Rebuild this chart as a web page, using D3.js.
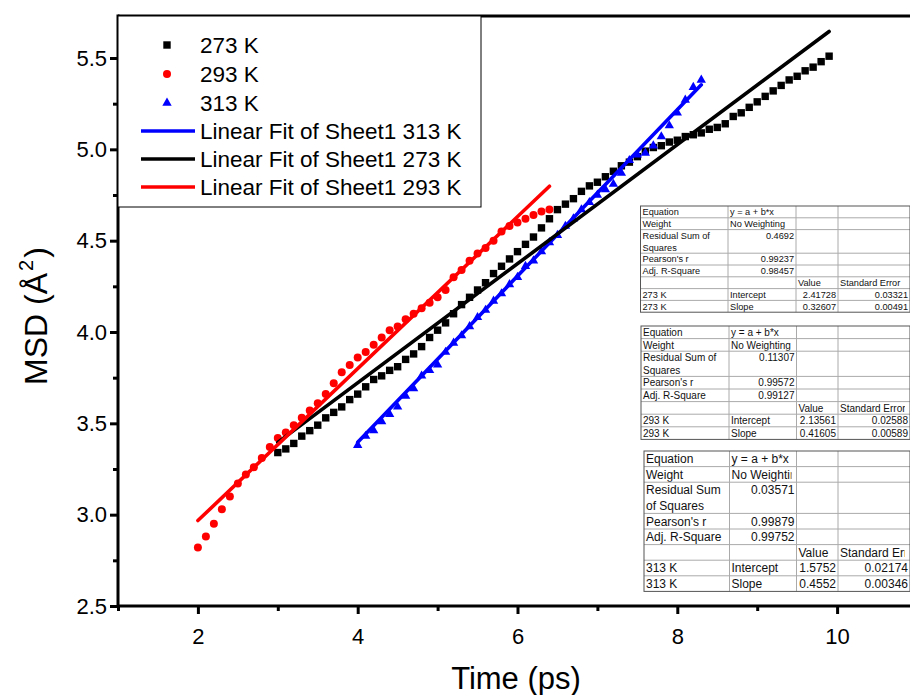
<!DOCTYPE html>
<html>
<head>
<meta charset="utf-8">
<script src="https://cdn.jsdelivr.net/npm/d3@7"></script>
<style>
  body { margin: 0; background: #fff; }
  svg { display: block; font-family: "Liberation Sans", Arial, sans-serif; }
</style>
</head>
<body>
<div id="chart"></div>
<script>
// MSD data, sampled every 0.1 ps
const dt = 0.1;
const start273 = 3.0;
const msd273 = [3.34, 3.36, 3.39, 3.43, 3.46, 3.49, 3.53, 3.56, 3.59, 3.63,
  3.66, 3.70, 3.74, 3.76, 3.79, 3.81, 3.85, 3.88, 3.92, 3.97,
  4.01, 4.05, 4.10, 4.15, 4.19, 4.23, 4.27, 4.32, 4.36, 4.40,
  4.44, 4.48, 4.52, 4.57, 4.62, 4.67, 4.70, 4.73, 4.77, 4.80,
  4.82, 4.85, 4.88, 4.91, 4.93, 4.96, 4.99, 5.01, 5.02, 5.04,
  5.05, 5.07, 5.08, 5.09, 5.11, 5.12, 5.14, 5.18, 5.20, 5.23,
  5.26, 5.29, 5.32, 5.35, 5.38, 5.40, 5.43, 5.45, 5.48, 5.51];
const start293 = 2.0;
const msd293 = [2.82, 2.88, 2.95, 3.03, 3.10, 3.17, 3.22, 3.26, 3.31, 3.37,
  3.42, 3.45, 3.49, 3.53, 3.57, 3.61, 3.66, 3.72, 3.78, 3.82,
  3.86, 3.89, 3.93, 3.97, 4.01, 4.03, 4.07, 4.10, 4.13, 4.16,
  4.19, 4.23, 4.30, 4.34, 4.39, 4.43, 4.46, 4.50, 4.55, 4.58,
  4.60, 4.62, 4.64, 4.66, 4.67];
const start313 = 4.0;
const msd313 = [3.38, 3.43, 3.46, 3.51, 3.55, 3.59, 3.65, 3.69, 3.76, 3.79,
  3.82, 3.89, 3.94, 3.98, 4.03, 4.08, 4.12, 4.17, 4.21, 4.26,
  4.30, 4.36, 4.39, 4.44, 4.49, 4.53, 4.58, 4.62, 4.67, 4.71,
  4.75, 4.78, 4.81, 4.87, 4.94, 4.97, 4.98, 5.02, 5.07, 5.13,
  5.20, 5.27, 5.34, 5.38];

// linear fit results (Origin tables)
const fitNames = ["273 K", "293 K", "313 K"];
const fitIntercept = ["2.41728", "2.13561", "1.5752"];
const fitInterceptErr = ["0.03321", "0.02588", "0.02174"];
const fitSlope = ["0.32607", "0.41605", "0.4552"];
const fitSlopeErr = ["0.00491", "0.00589", "0.00346"];
const fitRSS = ["0.4692", "0.11307", "0.03571"];
const fitPearson = ["0.99237", "0.99572", "0.99879"];
const fitAdjR2 = ["0.98457", "0.99127", "0.99752"];

const xMajor = [2, 4, 6, 8, 10];
const xMinor = [1, 3, 5, 7, 9];
const yMajor = [2.5, 3.0, 3.5, 4.0, 4.5, 5.0, 5.5];
const yMinor = [2.75, 3.25, 3.75, 4.25, 4.75, 5.25];

const legendLabels = ["273 K", "293 K", "313 K",
  "Linear Fit of Sheet1 313 K", "Linear Fit of Sheet1 273 K", "Linear Fit of Sheet1 293 K"];

const W = 910, H = 695;
const svg = d3.select("#chart").append("svg")
  .attr("width", W)
  .attr("height", H);

const x = d3.scaleLinear().domain([1, 11]).range([118, 917]);
const y = d3.scaleLinear().domain([2.5, 5.73]).range([606, 16]);

function toPoints(start, vals) {
  return vals.map((v, i) => ({ t: start + i * dt, v: v }));
}
const pts273 = toPoints(start273, msd273);
const pts293 = toPoints(start293, msd293);
const pts313 = toPoints(start313, msd313);

// data markers
svg.append("g").selectAll("rect")
  .data(pts273)
  .enter().append("rect")
  .attr("x", d => x(d.t) - 3.7)
  .attr("y", d => y(d.v) - 3.7)
  .attr("width", 7.4)
  .attr("height", 7.4)
  .attr("fill", "#000");

svg.append("g").selectAll("circle")
  .data(pts293)
  .enter().append("circle")
  .attr("cx", d => x(d.t))
  .attr("cy", d => y(d.v))
  .attr("r", 4)
  .attr("fill", "#ff0000");

const tri = d3.symbol().type(d3.symbolTriangle).size(38);
svg.append("g").selectAll("path")
  .data(pts313)
  .enter().append("path")
  .attr("d", tri)
  .attr("transform", d => `translate(${x(d.t)},${y(d.v)})`)
  .attr("fill", "#0000ff");

// fit lines, drawn in legend order
const fits = [
  { pts: pts313, k: 2, color: "#0000ff" },
  { pts: pts273, k: 0, color: "#000000" },
  { pts: pts293, k: 1, color: "#ff0000" }
];
fits.forEach(f => {
  const a = +fitIntercept[f.k], b = +fitSlope[f.k];
  const t0 = f.pts[0].t, t1 = f.pts[f.pts.length - 1].t;
  svg.append("line")
    .attr("x1", x(t0)).attr("y1", y(a + b * t0))
    .attr("x2", x(t1)).attr("y2", y(a + b * t1))
    .attr("stroke", f.color)
    .attr("stroke-width", 3.6)
    .attr("stroke-linecap", "round");
});

// axes
const axisG = svg.append("g");
function styleAxis(g, fontSize) {
  g.select(".domain").remove();
  g.selectAll("line").attr("stroke", "#000").attr("stroke-width", 3);
  g.selectAll("text").attr("font-size", fontSize).attr("fill", "#000")
    .attr("font-family", "'Liberation Sans', Arial, sans-serif");
}

axisG.append("g")
  .attr("transform", `translate(0,${y(2.5)})`)
  .call(d3.axisBottom(x).tickValues(xMajor).tickSize(8).tickPadding(14).tickFormat(d3.format("d")))
  .call(g => styleAxis(g, 22));
axisG.append("g")
  .attr("transform", `translate(0,${y(2.5)})`)
  .call(d3.axisBottom(x).tickValues(xMinor).tickSize(5).tickFormat(""))
  .call(g => styleAxis(g, 22));

axisG.append("g")
  .attr("transform", `translate(${x(1)},0)`)
  .call(d3.axisLeft(y).tickValues(yMajor).tickSize(8).tickPadding(3).tickFormat(d3.format(".1f")))
  .call(g => styleAxis(g, 22));
axisG.append("g")
  .attr("transform", `translate(${x(1)},0)`)
  .call(d3.axisLeft(y).tickValues(yMinor).tickSize(5).tickFormat(""))
  .call(g => styleAxis(g, 22));

// frame lines
axisG.append("line")
  .attr("x1", x(1)).attr("x2", W + 10)
  .attr("y1", y(2.5)).attr("y2", y(2.5))
  .attr("stroke", "#000").attr("stroke-width", 3);
axisG.append("line")
  .attr("x1", x(1)).attr("x2", W + 10)
  .attr("y1", y(5.73)).attr("y2", y(5.73))
  .attr("stroke", "#000").attr("stroke-width", 3);
axisG.append("line")
  .attr("x1", x(1)).attr("x2", x(1))
  .attr("y1", y(5.73) - 1.5).attr("y2", y(2.5) + 1.5)
  .attr("stroke", "#000").attr("stroke-width", 3);

// axis titles
svg.append("text")
  .attr("x", 516)
  .attr("y", 689)
  .attr("text-anchor", "middle")
  .attr("font-size", 31)
  .text("Time (ps)");

const yt = svg.append("text")
  .attr("transform", "translate(47,316) rotate(-90)")
  .attr("text-anchor", "middle")
  .attr("font-size", 32);
yt.append("tspan").text("MSD (Å");
yt.append("tspan").attr("font-size", 20).attr("dy", -14).attr("dx", 2).text("2");
yt.append("tspan").attr("dy", 14).attr("dx", 2).text(")");

// legend
const lg = svg.append("g");
lg.append("rect")
  .attr("x", x(1)).attr("y", y(5.73))
  .attr("width", 481 - x(1)).attr("height", 207 - y(5.73))
  .attr("fill", "#fff")
  .attr("stroke", "#000").attr("stroke-width", 1);
const rowY = [45, 74, 103, 131, 159, 187];
const legendColors = ["#000000", "#ff0000", "#0000ff", "#0000ff", "#000000", "#ff0000"];
legendLabels.forEach((lab, i) => {
  const cy = rowY[i];
  if (i === 0) {
    lg.append("rect").attr("x", 167 - 3.7).attr("y", cy - 3.7).attr("width", 7.4).attr("height", 7.4).attr("fill", legendColors[i]);
  } else if (i === 1) {
    lg.append("circle").attr("cx", 167).attr("cy", cy).attr("r", 4).attr("fill", legendColors[i]);
  } else if (i === 2) {
    lg.append("path").attr("d", tri).attr("transform", `translate(167,${cy})`).attr("fill", legendColors[i]);
  } else {
    lg.append("line").attr("x1", 141).attr("x2", 195).attr("y1", cy).attr("y2", cy)
      .attr("stroke", legendColors[i]).attr("stroke-width", 3.6);
  }
  lg.append("text")
    .attr("x", 200).attr("y", cy)
    .attr("dy", "0.36em")
    .attr("font-size", 22.5)
    .text(lab);
});

// fit result tables
const tableSpecs = [
  { k: 0, left: 640.5, top: 206, rowH: 11.8, font: 9.2, cols: [640.5, 728, 796, 838, 910] },
  { k: 1, left: 641, top: 326, rowH: 12.6, font: 10, cols: [641, 729, 796.5, 838, 910] },
  { k: 2, left: 644, top: 451, rowH: 15.6, font: 12, cols: [644, 729.5, 796.5, 838, 910] }
];
const defs = svg.append("defs");
tableSpecs.forEach((s, ti) => {
  const k = s.k;
  const resLabel = ti === 2 ? ["Residual Sum", "of Squares"] : ["Residual Sum of", "Squares"];
  const rows = [
    { h: 1, cells: [["Equation"], ["y = a + b*x"], [""], [""]] },
    { h: 1, cells: [["Weight"], ["No Weighting"], [""], [""]] },
    { h: 2, cells: [resLabel, [fitRSS[k]], [""], [""]], num: [1] },
    { h: 1, cells: [["Pearson's r"], [fitPearson[k]], [""], [""]], num: [1] },
    { h: 1, cells: [["Adj. R-Square"], [fitAdjR2[k]], [""], [""]], num: [1] },
    { h: 1, cells: [[""], [""], ["Value"], ["Standard Error"]] },
    { h: 1, cells: [[fitNames[k]], ["Intercept"], [fitIntercept[k]], [fitInterceptErr[k]]], num: [2, 3] },
    { h: 1, cells: [[fitNames[k]], ["Slope"], [fitSlope[k]], [fitSlopeErr[k]]], num: [2, 3] }
  ];
  const g = svg.append("g");
  const total = d3.sum(rows, r => r.h) * s.rowH;
  g.append("rect")
    .attr("x", s.left).attr("y", s.top)
    .attr("width", s.cols[4] - s.left).attr("height", total)
    .attr("fill", "#fff");
  let yy = s.top;
  rows.forEach((r, ri) => {
    const rh = r.h * s.rowH;
    r.cells.forEach((lines, ci) => {
      const cx0 = s.cols[ci], cx1 = s.cols[ci + 1];
      const right = r.num && r.num.includes(ci);
      const id = `clip-${ti}-${ri}-${ci}`;
      defs.append("clipPath").attr("id", id)
        .append("rect").attr("x", cx0).attr("y", yy)
        .attr("width", cx1 - cx0 - (right ? 1 : 5)).attr("height", rh);
      lines.forEach((ln, li) => {
        g.append("text")
          .attr("clip-path", `url(#${id})`)
          .attr("x", right ? cx1 - 2 : cx0 + 2)
          .attr("y", yy + s.rowH * li + s.rowH / 2)
          .attr("dy", "0.36em")
          .attr("text-anchor", right ? "end" : "start")
          .attr("font-size", s.font)
          .attr("fill", "#111")
          .text(ln);
      });
    });
    yy += rh;
    if (ri < rows.length - 1) {
      g.append("line")
        .attr("x1", s.left).attr("x2", s.cols[4])
        .attr("y1", yy).attr("y2", yy)
        .attr("stroke", "#aaa").attr("stroke-width", 1);
    }
  });
  s.cols.slice(1, 4).forEach(cx => {
    g.append("line")
      .attr("x1", cx).attr("x2", cx)
      .attr("y1", s.top).attr("y2", s.top + total)
      .attr("stroke", "#aaa").attr("stroke-width", 1);
  });
  g.append("rect")
    .attr("x", s.left).attr("y", s.top)
    .attr("width", s.cols[4] - s.left).attr("height", total)
    .attr("fill", "none")
    .attr("stroke", "#555").attr("stroke-width", 1);
});
</script>
</body>
</html>
